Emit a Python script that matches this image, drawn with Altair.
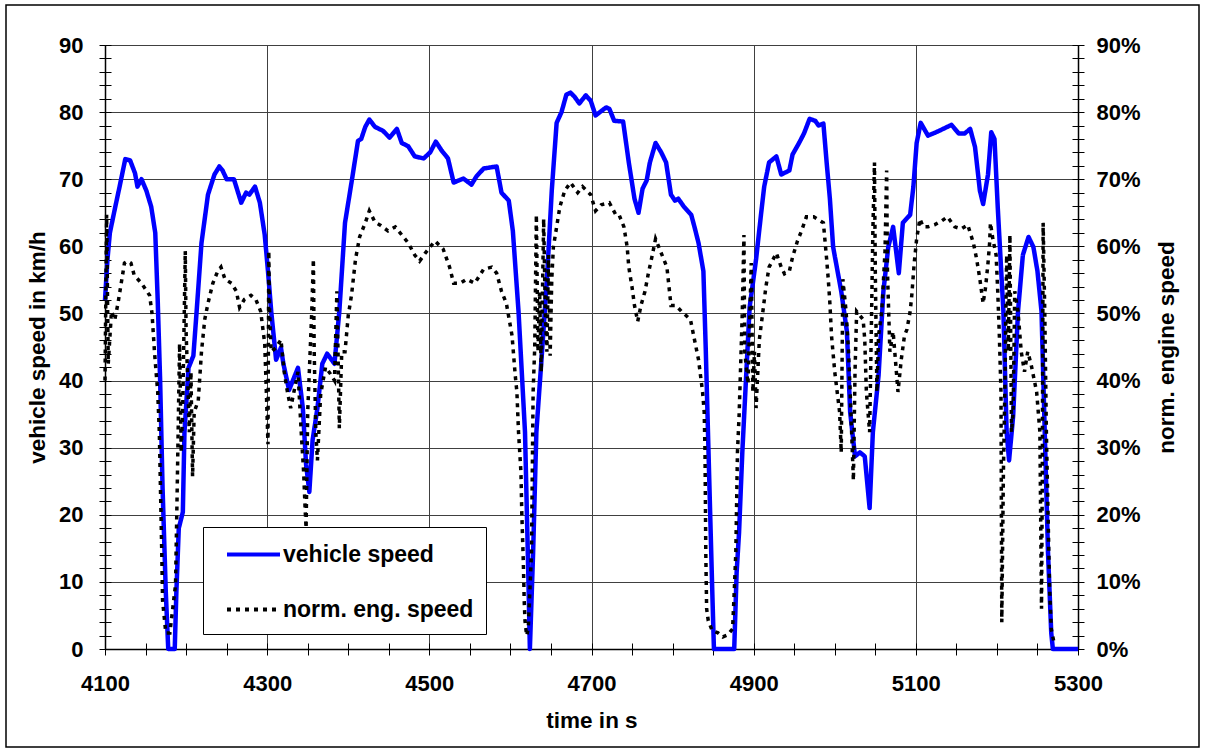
import altair as alt
import pandas as pd

# ---------------- data ----------------
veh_t = [4100, 4103, 4106, 4112, 4118, 4125, 4131, 4137, 4140, 4145, 4151, 4157, 4162, 4165, 4168,
         4171, 4175, 4178, 4186, 4188, 4191, 4196, 4198, 4203, 4209, 4213, 4219, 4227, 4235, 4241,
         4245, 4250, 4259, 4268, 4274, 4278, 4285, 4291, 4297, 4301, 4305, 4311, 4317, 4320, 4327,
         4334, 4338, 4344, 4348, 4352, 4356, 4362, 4368, 4374, 4383, 4389, 4396, 4404, 4412, 4416,
         4421, 4426, 4433, 4443, 4451, 4460, 4466, 4474, 4482, 4493, 4501, 4508, 4515, 4523, 4530,
         4542, 4552, 4558, 4567, 4583, 4589, 4598, 4603, 4610, 4618, 4622, 4624, 4628, 4632, 4639,
         4645, 4651, 4657, 4663, 4669, 4674, 4679, 4685, 4693, 4699, 4705, 4718, 4722, 4728, 4739,
         4746, 4753, 4758, 4763, 4768, 4772, 4779, 4786, 4792, 4798, 4803, 4807, 4814, 4823, 4827,
         4832, 4838, 4841, 4845, 4849, 4851, 4876, 4879, 4882, 4886, 4891, 4895, 4903, 4909, 4913,
         4919, 4928, 4934, 4944, 4948, 4956, 4962, 4969, 4976, 4980, 4986, 4990, 4994, 4998, 5008,
         5015, 5019, 5025, 5031, 5037, 5043, 5047, 5054, 5060, 5066, 5072, 5079, 5084, 5093, 5097,
         5101, 5106, 5115, 5123, 5132, 5144, 5153, 5160, 5167, 5173, 5179, 5183, 5189, 5193, 5197,
         5201, 5208, 5212, 5215, 5220, 5226, 5232, 5239, 5245, 5250, 5255, 5259, 5263, 5267, 5269,
         5300]
veh_v = [52, 58, 62, 65.5, 68.9, 73, 72.8, 70.9, 68.9, 70, 68.3, 65.9, 62, 52, 40,
         24, 8.4, 0, 0, 8.4, 18, 20.4, 32.3, 41.9, 43.7, 50.3, 60.5, 67.7, 70.7, 71.9,
         71.3, 70, 70, 66.5, 68, 67.7, 68.9, 66.5, 61.7, 56.3, 50.3, 43.1, 44.9, 42.5, 38.6,
         40.7, 41.9, 35.9, 27.5, 23.4, 31.1, 35.9, 42.5, 44, 42.5, 50.3, 63.5, 69.5, 75.7, 76,
         77.8, 78.9, 77.8, 77.2, 76.2, 77.5, 75.4, 74.9, 73.4, 73.1, 74, 75.6, 74.3, 73.1, 69.5,
         70.1, 69.2, 70.4, 71.6, 71.9, 68, 66.8, 62.3, 50.3, 32.3, 11.4, 0, 14.4, 32.3, 44.3,
         55, 68.3, 78.4, 80, 82.6, 82.9, 82.3, 81.3, 82.5, 81.7, 79.5, 80.7, 80.5, 78.7, 78.6,
         72.5, 67.1, 65, 68.6, 69.8, 72.5, 75.4, 74, 72.5, 67.7, 66.8, 67.1, 65.9, 64.7, 62.9,
         60.5, 56.3, 44.3, 26.3, 8.4, 0, 0, 11.4, 17.4, 29.3, 41.3, 50.9, 58.1, 64.7, 68.9,
         72.5, 73.4, 70.7, 71.3, 73.7, 75.4, 76.8, 79, 78.7, 78, 78.3, 72.5, 67.1, 59.9, 53.3,
         47.3, 35.3, 28.7, 29.3, 28.7, 21, 32.3, 40.7, 53.3, 59.9, 62.9, 56, 63.5, 64.7, 68.9,
         75.4, 78.4, 76.5, 76.9, 77.4, 78.1, 76.8, 76.8, 77.5, 74.8, 68.3, 66.3, 70.7, 77, 76,
         65.9, 50.3, 32.3, 28.1, 34.7, 50.3, 58.7, 61.4, 59.9, 56.3, 50.3, 32.3, 14.4, 2.4, 0,
         0]

eng_t = [4100, 4102, 4104, 4108, 4112, 4116, 4120, 4124, 4128, 4132, 4136, 4145, 4155, 4158, 4161,
         4165, 4167, 4168, 4169, 4170, 4171, 4175, 4180, 4187, 4189, 4191, 4192, 4194, 4196, 4199,
         4200, 4202, 4204, 4206, 4208, 4210, 4215, 4219, 4223, 4227, 4233, 4239, 4243, 4248, 4256,
         4262, 4266, 4272, 4280, 4286, 4292, 4297, 4299, 4301, 4302, 4303, 4305, 4311, 4317, 4321,
         4325, 4329, 4333, 4338, 4342, 4345, 4347, 4348, 4350, 4352, 4355, 4357, 4358, 4360, 4362,
         4366, 4372, 4378, 4383, 4386, 4388, 4389, 4392, 4396, 4400, 4404, 4409, 4414, 4421, 4426,
         4433, 4439, 4449, 4458, 4466, 4474, 4482, 4488, 4495, 4507, 4517, 4525, 4530, 4538, 4546,
         4556, 4567, 4577, 4583, 4589, 4595, 4602, 4606, 4608, 4610, 4613, 4614, 4616, 4617, 4618,
         4620, 4622, 4626, 4628, 4630, 4632, 4634, 4636, 4638, 4641, 4643, 4645, 4647, 4649, 4651,
         4653, 4657, 4661, 4667, 4674, 4683, 4689, 4699, 4705, 4712, 4722, 4730, 4734, 4740, 4744,
         4746, 4750, 4753, 4757, 4761, 4766, 4770, 4775, 4779, 4786, 4793, 4798, 4804, 4811, 4822,
         4827, 4832, 4837, 4839, 4840, 4841, 4842, 4844, 4849, 4856, 4862, 4868, 4874, 4876, 4878,
         4880, 4882, 4886, 4888, 4889, 4893, 4897, 4899, 4901, 4903, 4907, 4912, 4915, 4919, 4928,
         4934, 4938, 4944, 4948, 4954, 4959, 4965, 4974, 4982, 4986, 4990, 4992, 4994, 4996, 5000,
         5006, 5008, 5010, 5014, 5017, 5019, 5023, 5025, 5027, 5031, 5035, 5037, 5039, 5043, 5045,
         5047, 5049, 5050, 5052, 5054, 5058, 5062, 5064, 5065, 5068, 5072, 5076, 5078, 5082, 5086,
         5089, 5093, 5095, 5098, 5101, 5105, 5109, 5115, 5123, 5132, 5139, 5148, 5156, 5164, 5171,
         5175, 5179, 5183, 5186, 5189, 5191, 5192, 5195, 5199, 5201, 5203, 5205, 5206, 5208, 5210,
         5212, 5214, 5216, 5218, 5220, 5222, 5226, 5230, 5234, 5238, 5242, 5249, 5253, 5255, 5256,
         5257, 5259, 5261, 5263, 5265, 5267, 5271]
eng_p = [40, 64.7, 42.5, 50.3, 49, 51.5, 54.5, 57.5, 57.8, 57.5, 55.7, 54.5, 52.7, 50, 44.3,
         38.3, 32.3, 26.3, 20.4, 14.4, 7.2, 2.4, 2.4, 9.6, 23.4, 38.3, 45.5, 29.3, 37, 59.3,
         47.3, 40.1, 32.3, 41.3, 25.7, 35.3, 37, 44.3, 49.1, 51.5, 54.5, 56.3, 56.9, 55.1, 54.5,
         53.3, 50.9, 52.1, 52.7, 52.1, 50.3, 45.5, 38.3, 30.5, 59.3, 50.3, 44.3, 44.9, 46.1, 41.3,
         38.3, 35.9, 38.3, 41.3, 32.3, 26.3, 20.4, 18, 35.3, 41.3, 50.3, 58.1, 44.3, 32.3, 28.1,
         38, 42, 41, 40, 53.3, 40.1, 32.9, 44.3, 44.3, 49.7, 52.7, 58.1, 61.4, 63.5, 65.3,
         63.6, 63.2, 62.3, 62.9, 61.7, 60.5, 58.7, 57.8, 59, 60.8, 59.6, 56.9, 54.5, 54.5, 55.1,
         54.5, 56.6, 56.9, 56, 53.3, 51.5, 46.7, 40.7, 38.3, 32.3, 26.3, 20.4, 12.6, 7.2, 4.2,
         2, 3, 14.4, 38.3, 45, 64.7, 44.3, 53.3, 41.3, 64.1, 50.3, 44.3, 58.7, 43.7, 55.1,
         59.9, 62.9, 65.9, 68.3, 69.5, 68, 68.9, 67.7, 65.3, 66.2, 66.5, 64.7, 64.7, 62.9, 59.9,
         56.9, 53.9, 51.2, 48.8, 51.2, 53.3, 55.9, 58.7, 61.1, 59, 56.9, 51.2, 51.2, 50.3, 49.1,
         46.1, 43.1, 38.3, 35.3, 29.3, 14, 6, 4.2, 2.7, 2.4, 1.8, 2.1, 3, 8.4, 14.4,
         29.3, 34.7, 50.3, 61.7, 44.3, 39.5, 57.5, 38.3, 44.3, 35.9, 46.1, 50.9, 53.9, 56.9, 59,
         56.9, 55.9, 56.3, 58.4, 60.8, 62.3, 64.4, 64.4, 63.8, 63.5, 58.1, 55.1, 51.5, 46.7, 41.3,
         35.3, 29.3, 55.1, 50.3, 44.3, 38.3, 25.1, 41.3, 50.3, 49.7, 49.1, 46.1, 38.3, 32.3, 46.7,
         62.3, 72.5, 56.3, 38.3, 46.7, 50.3, 59.3, 71.3, 56.3, 44.3, 47.3, 41.3, 38.3, 43.1, 46.7,
         47.6, 50.3, 52.7, 57.5, 61.1, 64.1, 62.9, 62.9, 63.2, 63.8, 64.4, 62.9, 62.6, 63.2, 60.5,
         58.1, 55.1, 51.5, 53.9, 57.5, 60.5, 63.5, 61.1, 58.7, 53.3, 46.7, 38.3, 4, 26.3, 40,
         58.7, 44.3, 61.7, 32.3, 35.3, 53.3, 50.3, 44.3, 41.3, 44.3, 42.5, 38.3, 32.3, 6, 26.3,
         63.5, 50.3, 32.3, 20.4, 9, 3, 0.6]

series_names = ["vehicle speed", "norm. eng. speed"]
series_colors = ["#0000ff", "#000000"]
series_dash = [[1, 0], [4, 5]]

x_ticks = list(range(4100, 5301, 50))
y_ticks = list(range(0, 91, 2))

veh_df = pd.DataFrame({"t": veh_t, "v": veh_v, "series": series_names[0]})
eng_df = pd.DataFrame({"t": eng_t, "v": eng_p, "series": series_names[1]})

FONT = "Liberation Sans"
W, H = 973, 604

legend = alt.Legend(
    title=None, orient="none", legendX=98, legendY=482,
    strokeColor="#000000", fillColor="#ffffff", padding=12,
    labelFont=FONT, labelFontSize=23, labelFontWeight="bold", labelColor="#000000",
    labelLimit=400,
    symbolType="M-2,0H2", symbolSize=702, symbolStrokeWidth=4, symbolOffset=23,
    rowPadding=27, labelOffset=14,
)
color = alt.Color("series:N", scale=alt.Scale(domain=series_names, range=series_colors), legend=legend)
dash = alt.StrokeDash("series:N", scale=alt.Scale(domain=series_names, range=series_dash), legend=legend)

x_scale = alt.Scale(domain=[4100, 5300], nice=False, zero=False)
y_scale = alt.Scale(domain=[0, 90], nice=False)

x_axis = alt.Axis(
    values=x_ticks, format="d", title="time in s",
    labelExpr="(datum.value - 4100) % 200 === 0 ? datum.label : ''",
    labelFlush=False, labelOverlap=False, labelAlign="center",
    gridOpacity={"condition": {"test": "(datum.value - 4100) % 200 === 0", "value": 1}, "value": 0},
    tickSize=6, labelPadding=18, titleBaseline="middle", titleY=71,
)
left_axis = alt.Axis(
    values=y_ticks, title="vehicle speed in km/h", orient="left",
    labelExpr="datum.value % 10 === 0 ? datum.label : ''",
    labelFlush=False, labelOverlap=False,
    gridOpacity={"condition": {"test": "datum.value % 10 === 0", "value": 1}, "value": 0},
    tickSize=6, labelPadding=16, titleAngle=270, titleBaseline="middle", titleX=-68,
)
right_axis = alt.Axis(
    values=y_ticks, title="norm. engine speed", orient="right", grid=False,
    labelExpr="datum.value % 10 === 0 ? datum.value + '%' : ''",
    labelFlush=False, labelOverlap=False,
    tickSize=6, labelPadding=12, titleAngle=270, titleBaseline="middle", titleX=88,
)

veh = alt.Chart(veh_df).mark_line(strokeWidth=4.5, strokeJoin="round").encode(
    x=alt.X("t:Q", scale=x_scale, axis=x_axis),
    y=alt.Y("v:Q", scale=y_scale, axis=left_axis),
    color=color, strokeDash=dash,
)
eng = alt.Chart(eng_df).mark_line(strokeWidth=3.5).encode(
    x=alt.X("t:Q", scale=x_scale, axis=None),
    y=alt.Y("v:Q", scale=y_scale, axis=right_axis),
    color=color, strokeDash=dash,
)

# invisible layers that only carry the inner halves of the crossing tick marks
tick_only = dict(labels=False, domain=False, grid=False, title=None, tickSize=6)
ghost1 = alt.Chart(veh_df).mark_line(opacity=0).encode(
    x=alt.X("t:Q", scale=x_scale, axis=alt.Axis(values=x_ticks, orient="top", offset=-H, **tick_only)),
    y=alt.Y("v:Q", scale=y_scale, axis=alt.Axis(values=y_ticks, orient="right", offset=-W, **tick_only)),
)
ghost2 = alt.Chart(veh_df).mark_line(opacity=0).encode(
    x=alt.X("t:Q", scale=x_scale, axis=None),
    y=alt.Y("v:Q", scale=y_scale, axis=alt.Axis(values=y_ticks, orient="left", offset=-W, **tick_only)),
)

frame = alt.Chart(pd.DataFrame({"a": [0]})).mark_rect(
    fillOpacity=0, stroke="#000000", strokeWidth=1.5
).encode(x=alt.value(-99), x2=alt.value(1094), y=alt.value(-40), y2=alt.value(702))

chart = alt.layer(veh, eng, ghost1, ghost2, frame).resolve_scale(
    y="independent", x="independent"
).properties(
    width=W, height=H,
    autosize=alt.AutoSizeParams(type="none"),
    padding={"left": 105, "top": 45, "right": 127, "bottom": 103},
    background="#ffffff",
).configure_view(stroke="#000000", strokeWidth=1).configure_axis(
    labelFont=FONT, labelFontSize=22, labelFontWeight="bold", labelColor="#000000",
    titleFont=FONT, titleFontSize=22.5, titleFontWeight="bold", titleColor="#000000",
    domainColor="#000000", domainWidth=1.5, tickColor="#000000", tickWidth=1,
    gridColor="#404040", gridWidth=1,
)

chart.save("out.html", embed_options={"renderer": "svg", "actions": False})
